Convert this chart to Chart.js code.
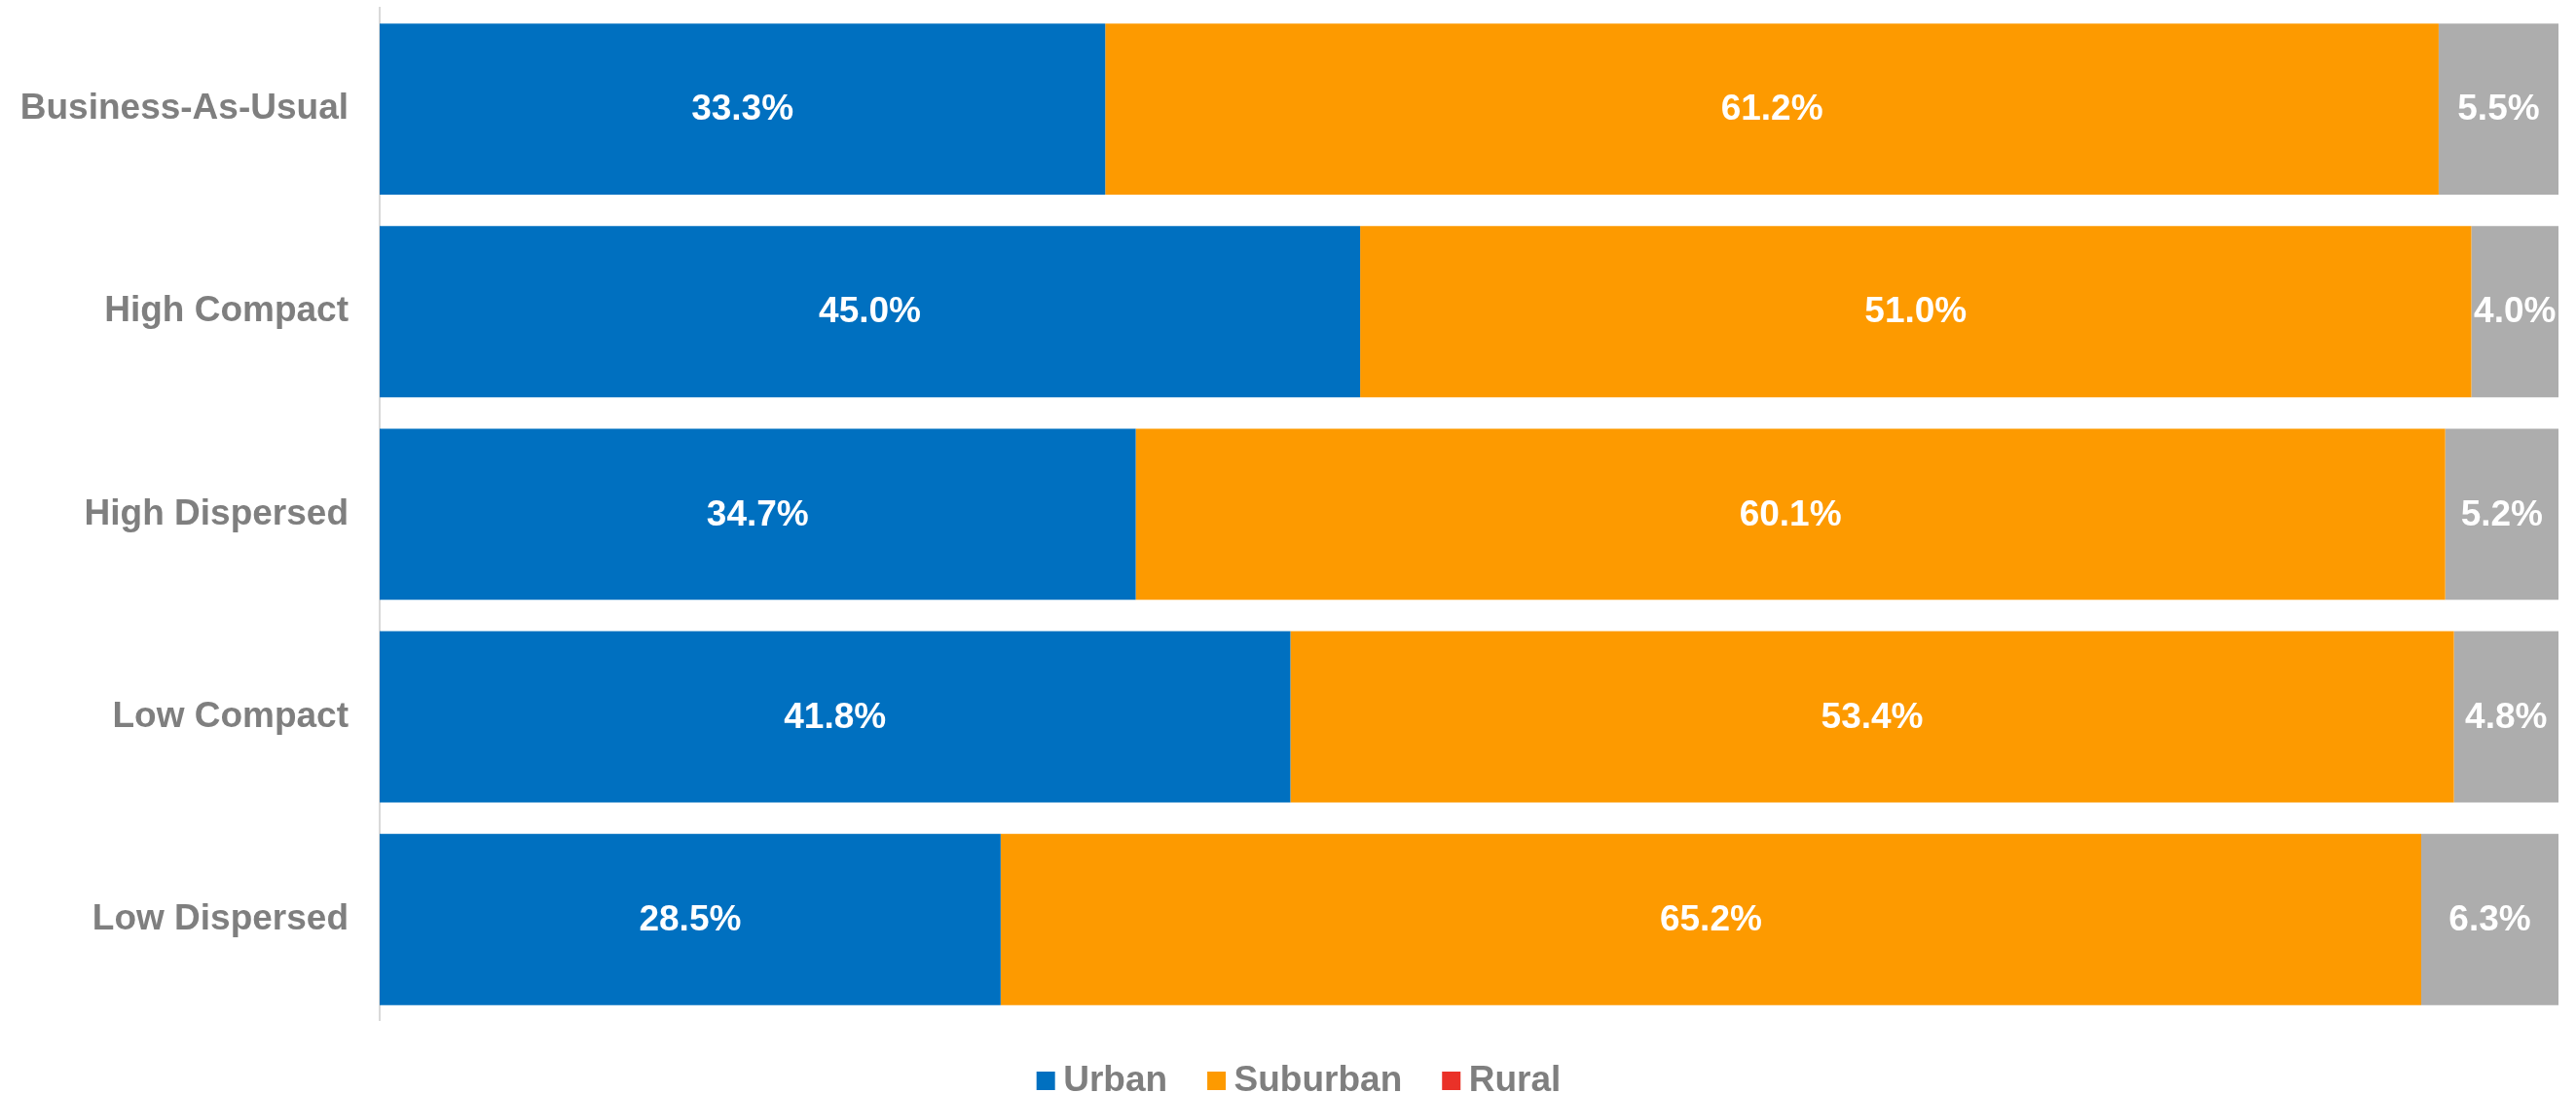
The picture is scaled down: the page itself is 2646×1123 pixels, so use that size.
<!DOCTYPE html>
<html>
<head>
<meta charset="utf-8">
<script src="https://cdn.jsdelivr.net/npm/chart.js@4/dist/chart.umd.min.js"></script>
<style>
    html, body { margin: 0; padding: 0; background: #ffffff; }
    #wrap { width: 2646px; height: 1123px; position: relative; }
</style>
</head>
<body>
<div id="wrap"><canvas id="shareChart"></canvas></div>
<script>
// Data
const categories = ['Business-As-Usual', 'High Compact', 'High Dispersed', 'Low Compact', 'Low Dispersed'];
const seriesNames = ['Urban', 'Suburban', 'Rural'];
const urban = [33.3, 45.0, 34.7, 41.8, 28.5];
const suburban = [61.2, 51.0, 60.1, 53.4, 65.2];
const rural = [5.5, 4.0, 5.2, 4.8, 6.3];

const barColors = ['#0070C0', '#FD9A00', '#ADADAD'];
const legendColors = ['#0070C0', '#FD9A00', '#EA3128'];
const textGray = '#7F7F7F';
const fontFamily = '"Liberation Sans", Arial, sans-serif';

// Draw value labels in the middle of each segment
const segmentLabels = {
    id: 'segmentLabels',
    afterDatasetsDraw(chart) {
        const ctx = chart.ctx;
        ctx.save();
        ctx.font = 'bold 37px ' + fontFamily;
        ctx.fillStyle = '#ffffff';
        ctx.textAlign = 'center';
        ctx.textBaseline = 'middle';
        chart.data.datasets.forEach((ds, i) => {
            const meta = chart.getDatasetMeta(i);
            meta.data.forEach((bar, j) => {
                const v = ds.data[j];
                const cx = (bar.x + bar.base) / 2;
                ctx.fillText(v.toFixed(1) + '%', cx, bar.y + 1);
            });
        });
        ctx.restore();
    }
};

// Legend squares sit closer to their text than Chart.js puts them,
// so the built-in boxes are left transparent and drawn here instead.
// The whole legend also sits a little right of the canvas centre.
const legendSquares = {
    id: 'legendSquares',
    afterLayout(chart) {
        chart.legend.left += 15;
        chart.legend.right += 15;
    },
    afterDraw(chart) {
        const ctx = chart.ctx;
        ctx.save();
        chart.legend.legendHitBoxes.forEach((hb, i) => {
            ctx.fillStyle = legendColors[i];
            ctx.fillRect(hb.left + 10, hb.top + hb.height / 2 - 9.5, 19, 19);
        });
        ctx.restore();
    }
};

document.addEventListener('DOMContentLoaded', function() {
    const shareChart = new Chart(document.getElementById('shareChart'), {
        type: 'bar',
        data: {
            labels: categories,
            datasets: [
                { label: seriesNames[0], data: urban, backgroundColor: barColors[0] },
                { label: seriesNames[1], data: suburban, backgroundColor: barColors[1] },
                { label: seriesNames[2], data: rural, backgroundColor: barColors[2] }
            ]
        },
        options: {
            indexAxis: 'y',
            responsive: true,
            maintainAspectRatio: false,
            animation: false,
            devicePixelRatio: 1,
            layout: {
                padding: { top: 8, right: 18, bottom: -16, left: 0 }
            },
            datasets: {
                bar: { barPercentage: 0.845, categoryPercentage: 1, borderWidth: 0 }
            },
            scales: {
                x: {
                    stacked: true,
                    min: 0,
                    max: 100,
                    display: false
                },
                y: {
                    stacked: true,
                    grid: { display: false, drawTicks: false },
                    border: { display: true, color: '#D9D9D9', width: 2 },
                    ticks: {
                        padding: 32,
                        color: textGray,
                        font: { family: fontFamily, size: 37, weight: 'bold' }
                    },
                    afterFit: function(scale) {
                        scale.width = 390;
                        scale.paddingTop = 0;
                        scale.paddingBottom = 0;
                    }
                }
            },
            plugins: {
                tooltip: { enabled: false },
                legend: {
                    position: 'bottom',
                    title: { display: true, text: '', font: { size: 1 }, padding: { top: 0, bottom: 11 } },
                    labels: {
                        boxWidth: 19,
                        boxHeight: 19,
                        padding: 31,
                        color: textGray,
                        font: { family: fontFamily, size: 37, weight: 'bold' },
                        generateLabels: function(chart) {
                            const items = Chart.defaults.plugins.legend.labels.generateLabels(chart);
                            items.forEach(it => {
                                it.fillStyle = 'rgba(0,0,0,0)';
                                it.strokeStyle = 'rgba(0,0,0,0)';
                                it.lineWidth = 0;
                            });
                            return items;
                        }
                    }
                }
            }
        },
        plugins: [segmentLabels, legendSquares]
    });
});
</script>
</body>
</html>
